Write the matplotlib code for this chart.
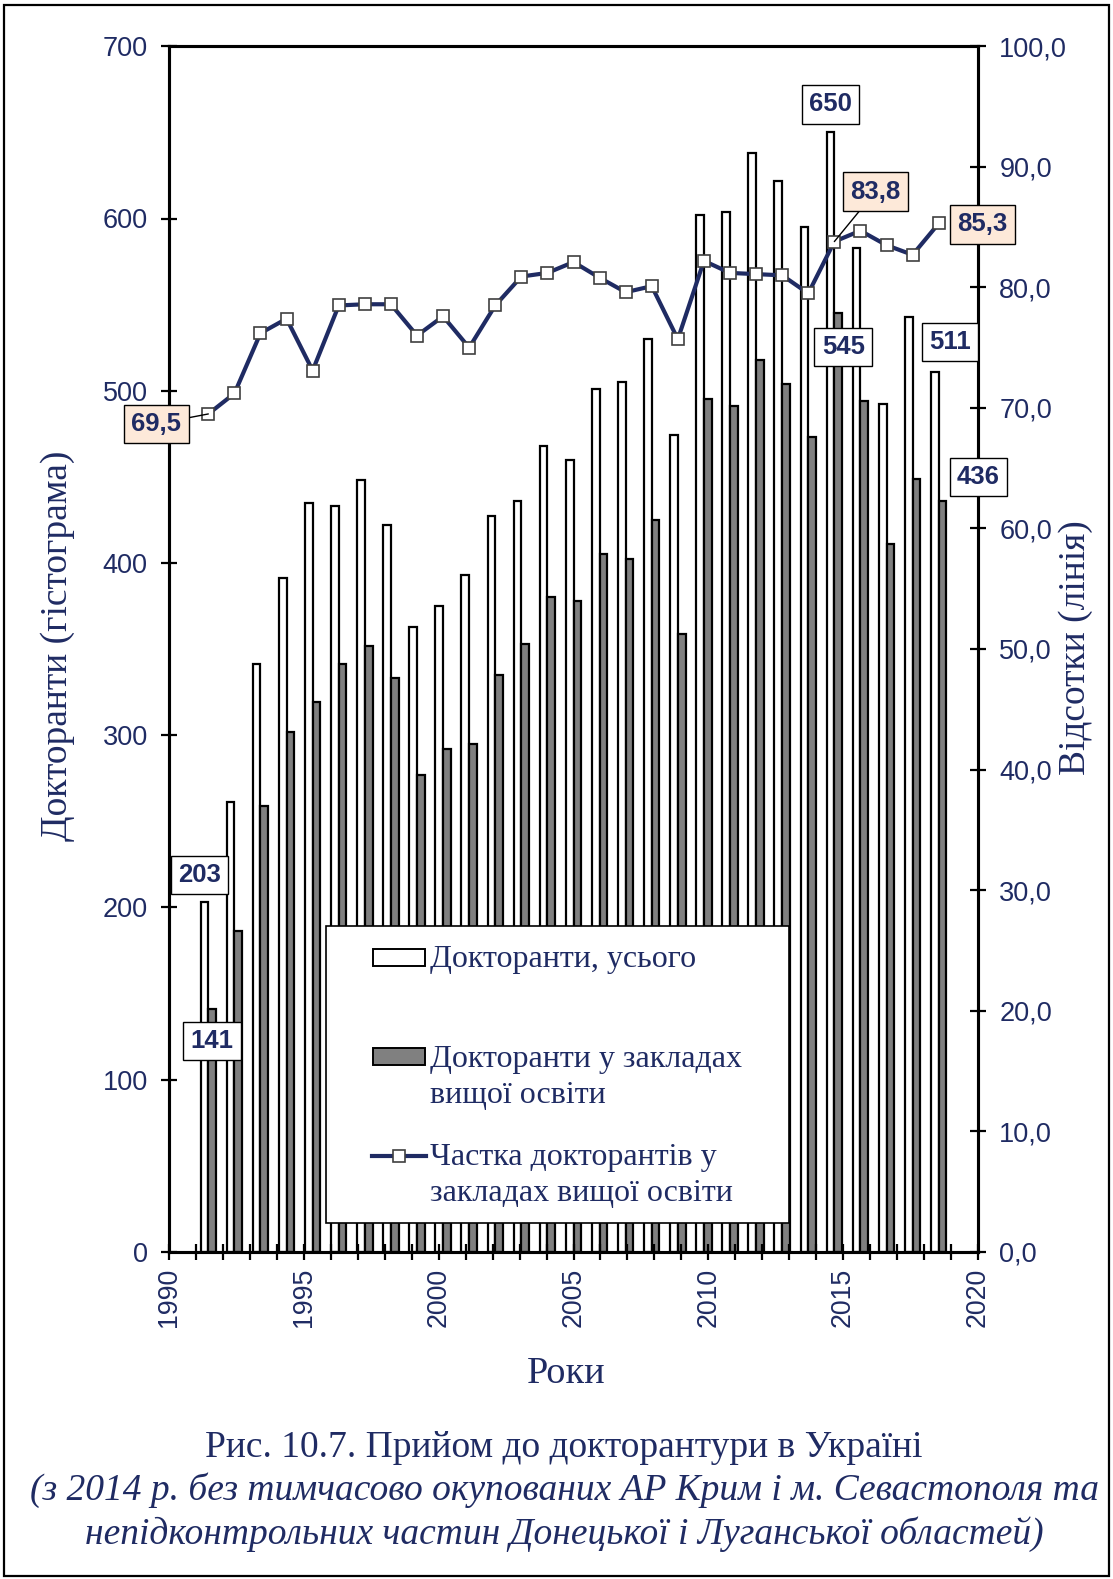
import matplotlib.pyplot as plt
from matplotlib.patches import Rectangle
from matplotlib.lines import Line2D

# figure size in pixels (saved at dpi=100)
W, H = 1113, 1579

NAVY = "#1F2B63"
SERIF = "Liberation Serif"
SANS = "Liberation Sans"

# data
YEARS = list(range(1991, 2020))
TOTAL = [203, 261, 341, 391, 435, 433, 448, 422, 363, 375, 393, 427, 436, 468, 460,
         501, 505, 530, 474, 602, 604, 638, 622, 595, 650, 583, 492, 543, 511]
HEI = [141, 186, 259, 302, 319, 341, 352, 333, 277, 292, 295, 335, 353, 380, 378,
       405, 402, 425, 359, 495, 491, 518, 504, 473, 545, 494, 411, 449, 436]
SHARE = [69.5, 71.2, 76.2, 77.4, 73.1, 78.5, 78.6, 78.6, 76.0, 77.6, 75.0, 78.5, 80.9, 81.2, 82.1,
         80.8, 79.6, 80.1, 75.7, 82.2, 81.2, 81.1, 81.0, 79.5, 83.8, 84.7, 83.5, 82.7, 85.3]

LEFT_TICKS = [0, 100, 200, 300, 400, 500, 600, 700]
RIGHT_TICKS = [0, 10, 20, 30, 40, 50, 60, 70, 80, 90, 100]
YEAR_LABELS = [1990, 1995, 2000, 2005, 2010, 2015, 2020]

LEGEND_LABELS = ["Докторанти, усього",
                 "Докторанти у закладах\nвищої освіти",
                 "Частка докторантів у\nзакладах вищої освіти"]
Y_LABEL = "Докторанти (гістограма)"
Y2_LABEL = "Відсотки (лінія)"
X_LABEL = "Роки"
CAPTION_1 = "Рис. 10.7. Прийом до докторантури в Україні"
CAPTION_2 = "(з 2014 р. без тимчасово окупованих АР Крим і м. Севастополя та"
CAPTION_3 = "непідконтрольних частин Донецької і Луганської областей)"


def fx(px):
    return px / W


def fy(py):
    return 1 - py / H


# bars sit on an Excel-like category axis of 31 slots spread over 1990..2020
pos = [1990 + (y - 1990 + 0.5) * 30 / 31 for y in YEARS]
bw = 0.286

fig = plt.figure(figsize=(W / 100, H / 100), dpi=100)
ax = fig.add_axes([fx(169.2), fy(1251.7), fx(977.8) - fx(169.2), fy(46.3) - fy(1251.7)])
ax2 = ax.twinx()

ax.bar([p - bw / 2 for p in pos], TOTAL, width=bw, color="white", edgecolor="black", linewidth=1.6)
ax.bar([p + bw / 2 for p in pos], HEI, width=bw, color="#808080", edgecolor="black", linewidth=1.6)

ax2.plot(pos, SHARE, color=NAVY, linewidth=3.0, marker="s", markersize=9,
         markerfacecolor="white", markeredgecolor="#404040", markeredgewidth=1.2, zorder=3)

ax.set_xlim(1990, 2020)
ax.set_ylim(0, 700)
ax2.set_ylim(0, 100)

ax.set_xticks(list(range(1990, 2021)))
ax.set_xticklabels([str(y) if y in YEAR_LABELS else "" for y in range(1990, 2021)],
                   rotation=90, fontsize=19.3, family=SANS, color=NAVY)
ax.set_yticks(LEFT_TICKS)
ax.set_yticklabels([str(t) for t in LEFT_TICKS], fontsize=19.5, family=SANS, color=NAVY)
ax2.set_yticks(RIGHT_TICKS)
ax2.set_yticklabels([("%.1f" % t).replace(".", ",") for t in RIGHT_TICKS],
                    fontsize=19.5, family=SANS, color=NAVY)

ax.tick_params(axis="both", direction="inout", length=11, width=1.6, color="black")
ax.tick_params(axis="y", pad=10)
ax.tick_params(axis="x", pad=6)
ax2.tick_params(axis="y", direction="inout", length=11, width=1.6, color="black", pad=10)

for a in (ax, ax2):
    for s in a.spines.values():
        s.set_linewidth(2.2)
        s.set_color("black")

# axis titles
fig.text(fx(57.5), fy(646), Y_LABEL, rotation=90, ha="center", va="center",
         fontsize=27, family=SERIF, color=NAVY)
fig.text(fx(1076), fy(648), Y2_LABEL, rotation=90, ha="center", va="center",
         fontsize=27, family=SERIF, color=NAVY)
fig.text(fx(566), fy(1374), X_LABEL, ha="center", va="center",
         fontsize=27.5, family=SERIF, color=NAVY)
fig.text(fx(564), fy(1448), CAPTION_1, ha="center", va="center",
         fontsize=27, family=SERIF, color=NAVY)
fig.text(fx(564), fy(1490), CAPTION_2, ha="center", va="center",
         fontsize=27, family=SERIF, style="italic", color=NAVY)
fig.text(fx(564), fy(1534), CAPTION_3, ha="center", va="center",
         fontsize=27, family=SERIF, style="italic", color=NAVY)

# value labels
plain = dict(boxstyle="square,pad=0.28", fc="white", ec="black", lw=1.0)
peach = dict(boxstyle="square,pad=0.28", fc="#FDE9D9", ec="black", lw=1.0)
lab = dict(textcoords="offset pixels", ha="center", va="center", fontsize=18.5,
           family=SANS, weight="bold", color=NAVY, annotation_clip=False, zorder=10)

i91, i15, i19 = YEARS.index(1991), YEARS.index(2015), YEARS.index(2019)

ax2.annotate(str(TOTAL[i91]), xy=(pos[i91] - bw / 2, TOTAL[i91]), xycoords=ax.transData,
             xytext=(-5, 27), bbox=plain, **lab)
ax2.annotate(str(HEI[i91]), xy=(pos[i91] + bw / 2, HEI[i91]), xycoords=ax.transData,
             xytext=(0, -32), bbox=plain, **lab)
ax2.annotate(str(TOTAL[i15]), xy=(pos[i15] - bw / 2, TOTAL[i15]), xycoords=ax.transData,
             xytext=(0, 28), bbox=plain, **lab)
ax2.annotate(str(HEI[i15]), xy=(pos[i15] + bw / 2, HEI[i15]), xycoords=ax.transData,
             xytext=(5, -34), bbox=plain, **lab)
ax2.annotate(str(TOTAL[i19]), xy=(pos[i19] - bw / 2, TOTAL[i19]), xycoords=ax.transData,
             xytext=(15, 30), bbox=plain, **lab)
ax2.annotate(str(HEI[i19]), xy=(pos[i19] + bw / 2, HEI[i19]), xycoords=ax.transData,
             xytext=(36, 24), bbox=plain, **lab)

lead = dict(arrowstyle="-", color="black", lw=1.0, shrinkA=0, shrinkB=0)
ax2.annotate(("%.1f" % SHARE[i91]).replace(".", ","), xy=(pos[i91], SHARE[i91]),
             xytext=(-52, -10), bbox=peach, arrowprops=lead, **lab)
ax2.annotate(("%.1f" % SHARE[i15]).replace(".", ","), xy=(pos[i15], SHARE[i15]),
             xytext=(41, 50), bbox=peach, arrowprops=lead, **lab)
ax2.annotate(("%.1f" % SHARE[i19]).replace(".", ","), xy=(pos[i19], SHARE[i19]),
             xytext=(44, -1), bbox=peach, **lab)

# legend drawn like the Excel one
fig.add_artist(Rectangle((fx(325.7), fy(1222.7)), fx(789) - fx(325.7), fy(925.7) - fy(1222.7),
                         transform=fig.transFigure, fc="white", ec="black", lw=1.2, zorder=5))
fig.add_artist(Rectangle((fx(372.7), fy(965.7)), fx(425) - fx(372.7), fy(949.3) - fy(965.7),
                         transform=fig.transFigure, fc="white", ec="black", lw=1.4, zorder=6))
fig.add_artist(Rectangle((fx(372.7), fy(1065)), fx(425) - fx(372.7), fy(1048.3) - fy(1065),
                         transform=fig.transFigure, fc="#808080", ec="black", lw=1.4, zorder=6))
fig.add_artist(Line2D([fx(372), fx(426)], [fy(1156), fy(1156)], transform=fig.transFigure,
                      color=NAVY, lw=3.0, zorder=6))
fig.add_artist(Line2D([fx(399)], [fy(1156)], transform=fig.transFigure, marker="s",
                      markersize=9, markerfacecolor="white", markeredgecolor="#404040",
                      markeredgewidth=1.2, zorder=7))

leg_lines = [(LEGEND_LABELS[0], 960),
             (LEGEND_LABELS[1].split("\n")[0], 1059), (LEGEND_LABELS[1].split("\n")[1], 1095),
             (LEGEND_LABELS[2].split("\n")[0], 1157), (LEGEND_LABELS[2].split("\n")[1], 1194)]
for txt, yy in leg_lines:
    fig.text(fx(430), fy(yy), txt, ha="left", va="center", fontsize=23, family=SERIF,
             color=NAVY, zorder=7)

# outer frame
fig.add_artist(Rectangle((fx(4), fy(1576)), fx(1109) - fx(4), fy(5) - fy(1576),
                         transform=fig.transFigure, fill=False, ec="black", lw=1.6, zorder=8))

fig.savefig("out.png", dpi=100)
